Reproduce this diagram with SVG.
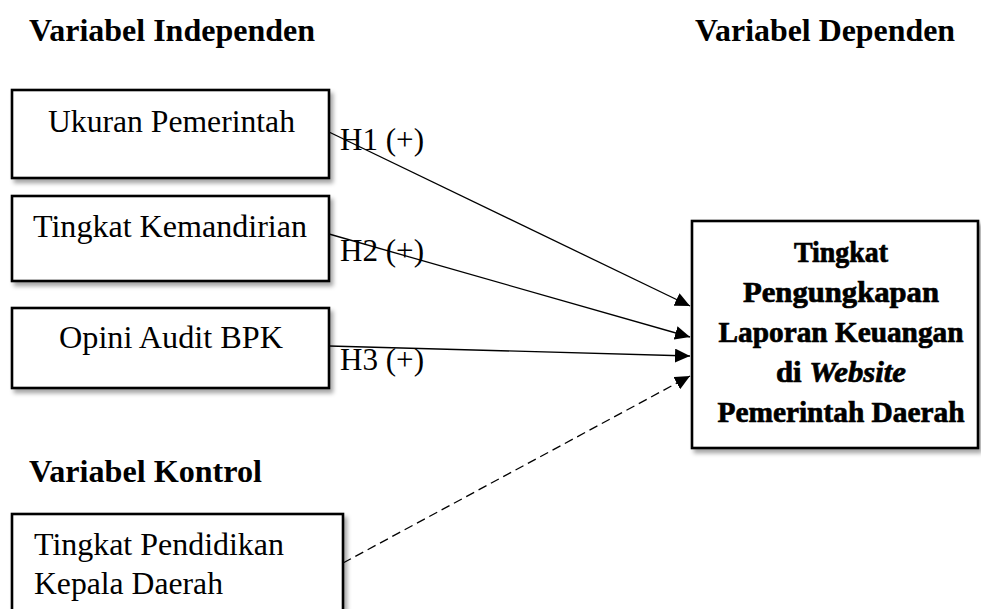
<svg xmlns="http://www.w3.org/2000/svg" width="981" height="609" viewBox="0 0 981 609">
<defs>
<style>
.box{fill:#fff;stroke:#000;stroke-width:2.6;filter:url(#sh)}
.t{font-family:"Liberation Serif","Times New Roman",serif;font-size:31.5px;fill:#000}
.h{font-family:"Liberation Serif","Times New Roman",serif;font-size:31.5px;font-weight:bold;fill:#000}
.lbl{font-family:"Liberation Serif","Times New Roman",serif;font-size:31px;fill:#000}
.d{font-family:"Liberation Serif","Times New Roman",serif;font-size:29.5px;font-weight:bold;fill:#000;stroke:#000;stroke-width:0.7;text-anchor:middle}
.c{fill:none;stroke:#000;stroke-width:1.3}
.dash{stroke-dasharray:9 5}
</style>
<filter id="sh" x="-5%" y="-5%" width="115%" height="120%">
<feDropShadow dx="3" dy="4" stdDeviation="2.2" flood-color="#000" flood-opacity="0.35"/>
</filter>
<marker id="ah" markerUnits="userSpaceOnUse" markerWidth="16" markerHeight="14" refX="15" refY="7" orient="auto">
<path d="M0,0 L15,7 L0,14 Z" fill="#000"/>
</marker>
</defs>

<text class="h" x="29" y="41" textLength="286" lengthAdjust="spacingAndGlyphs">Variabel Independen</text>
<text class="h" x="695" y="41" textLength="260" lengthAdjust="spacingAndGlyphs">Variabel Dependen</text>
<text class="h" x="29" y="482" textLength="233" lengthAdjust="spacingAndGlyphs">Variabel Kontrol</text>

<g id="ukuran">
<rect class="box" x="12" y="90" width="317" height="88"/>
<text class="t" x="48" y="132" textLength="247" lengthAdjust="spacingAndGlyphs">Ukuran Pemerintah</text>
</g>
<g id="kemandirian">
<rect class="box" x="12" y="196" width="317" height="85"/>
<text class="t" x="33" y="237" textLength="274" lengthAdjust="spacingAndGlyphs">Tingkat Kemandirian</text>
</g>
<g id="opini">
<rect class="box" x="12" y="308" width="317" height="80"/>
<text class="t" x="59" y="348" textLength="224" lengthAdjust="spacingAndGlyphs">Opini Audit BPK</text>
</g>
<g id="pendidikan">
<rect class="box" x="12" y="514" width="331" height="110"/>
<text class="t" x="34" y="555" textLength="250" lengthAdjust="spacingAndGlyphs">Tingkat Pendidikan</text>
<text class="t" x="34" y="594" textLength="189" lengthAdjust="spacingAndGlyphs">Kepala Daerah</text>
</g>
<g id="dependen">
<rect class="box" x="692" y="221" width="286" height="227"/>
<text class="d" x="841" y="262" textLength="94" lengthAdjust="spacingAndGlyphs">Tingkat</text>
<text class="d" x="841" y="302" textLength="196" lengthAdjust="spacingAndGlyphs">Pengungkapan</text>
<text class="d" x="841" y="342" textLength="245" lengthAdjust="spacingAndGlyphs">Laporan Keuangan</text>
<text class="d" x="841" y="382" textLength="130" lengthAdjust="spacingAndGlyphs">di <tspan font-style="italic">Website</tspan></text>
<text class="d" x="841" y="422" textLength="247" lengthAdjust="spacingAndGlyphs">Pemerintah Daerah</text>
</g>

<g id="connectors">
<line class="c" x1="329" y1="132" x2="690" y2="306" marker-end="url(#ah)"/>
<line class="c" x1="329" y1="234" x2="690" y2="337" marker-end="url(#ah)"/>
<line class="c" x1="329" y1="346" x2="690" y2="356" marker-end="url(#ah)"/>
<line class="c dash" x1="343" y1="563" x2="690" y2="376" marker-end="url(#ah)"/>
<text class="lbl" x="340" y="150" textLength="84" lengthAdjust="spacingAndGlyphs">H1 (+)</text>
<text class="lbl" x="340" y="261" textLength="84" lengthAdjust="spacingAndGlyphs">H2 (+)</text>
<text class="lbl" x="340" y="370" textLength="84" lengthAdjust="spacingAndGlyphs">H3 (+)</text>
</g>
</svg>
